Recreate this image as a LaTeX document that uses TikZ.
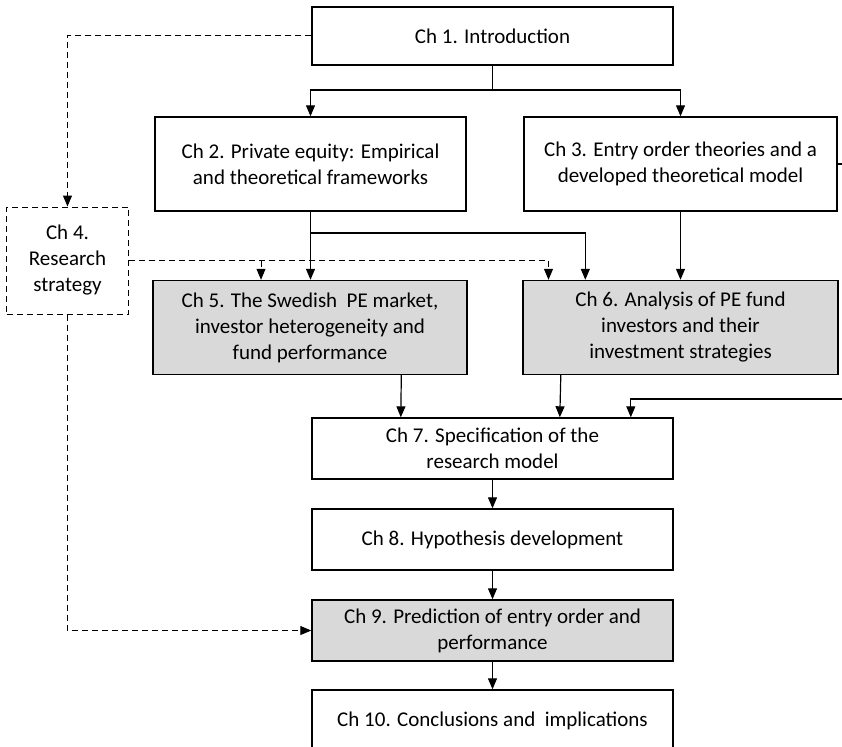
\documentclass[tikz,border=0pt]{standalone}
\usepackage{fontspec}
\setmainfont{Carlito}
\usetikzlibrary{arrows.meta,calc}
\begin{document}
\begin{tikzpicture}[x=1pt,y=-1pt,
  chbox/.style={draw=black,line width=1.4pt,fill=white,align=center,
    inner sep=0pt,font=\fontsize{21}{26}\selectfont},
  shaded/.style={chbox,fill=black!15},
  dashbox/.style={chbox,dash pattern=on 6pt off 4pt,line width=1pt},
  flow/.style={line width=1.2pt,-{Triangle[length=11pt,width=9pt]}},
  plain/.style={line width=1.2pt},
  dflow/.style={line width=1pt,dash pattern=on 6pt off 4pt,
    -{Triangle[length=11pt,width=9pt]}},
  dplain/.style={line width=1pt,dash pattern=on 6pt off 4pt}]
\useasboundingbox (0,0) rectangle (842,746);

% chapter boxes
\node[chbox,minimum width=361pt,minimum height=58pt] (c1) at (492.5,36) {Ch 1. Introduction};
\node[chbox,minimum width=311pt,minimum height=94pt] (c2) at (310.5,164) {Ch 2. Private equity: Empirical\\and theoretical frameworks};
\node[chbox,minimum width=313pt,minimum height=94pt] (c3) at (680.5,164) {Ch 3. Entry order theories and a\\developed theoretical model};
\node[dashbox,minimum width=122pt,minimum height=107pt] (c4) at (67.5,260.5) {Ch 4.\\Research\\strategy};
\node[shaded,minimum width=314pt,minimum height=94pt] (c5) at (310,327.5) {Ch 5. The Swedish\ \ PE market,\\investor heterogeneity and\\fund performance};
\node[shaded,minimum width=315pt,minimum height=94pt] (c6) at (680.5,327.5) {Ch 6. Analysis of PE fund\\investors and their\\investment strategies};
\node[chbox,minimum width=361pt,minimum height=61pt] (c7) at (492.5,448.5) {Ch 7. Specification of the\\research model};
\node[chbox,minimum width=361pt,minimum height=61pt] (c8) at (492.5,539.5) {Ch 8. Hypothesis development};
\node[shaded,minimum width=361pt,minimum height=61pt] (c9) at (492.5,630.5) {Ch 9. Prediction of entry order and\\performance};
\node[chbox,minimum width=361pt,minimum height=61pt] (c10) at (492.5,720.5) {Ch 10. Conclusions and\ \ implications};

% helper points
\coordinate (split) at (492.5,90);
\coordinate (c3out) at (842,164);
\coordinate (c7in) at (842,399);
\coordinate (ch2branch) at (310.5,233);
\coordinate (ch4corner) at (548.5,260.5);
\coordinate (ch4branch) at (261,260.5);

% Ch 1 to Ch 2 and Ch 3
\draw[plain] (c1.south) -- (split);
\draw[flow] (split) -| (c2.north);
\draw[flow] (split) -| (c3.north);
\draw[plain] (c3.east) -- (c3out);

% Ch 1 to Ch 4 (dashed)
\draw[dflow] (c1.west) -| (c4.north);

% into Ch 5 and Ch 6
\draw[flow] (c2.south) -- (c2.south |- c5.north);
\draw[flow] (ch2branch) -| ($(c6.north west)+(63,0)$);
\draw[flow] (c3.south) -- (c6.north);
\draw[dplain] (c4.east) -- (ch4corner);
\draw[dflow] (ch4corner) -- (ch4corner |- c6.north);
\draw[dflow] (ch4branch) -- (ch4branch |- c5.north);

% into Ch 7
\draw[flow] ($(c5.south west)+(249,0)$) -- ($(c7.north west)+(89.5,0)$);
\draw[flow] ($(c6.south west)+(38.5,0)$) -- ($(c7.north west)+(248.5,0)$);
\draw[flow] (c7in) -| ($(c7.north west)+(319.5,0)$);

% main sequence
\draw[flow] (c7.south) -- (c8.north);
\draw[flow] (c8.south) -- (c9.north);
\draw[flow] (c9.south) -- (c10.north);

% Ch 4 to Ch 9 (dashed)
\draw[dflow] (c4.south) |- (c9.west);
\end{tikzpicture}
\end{document}
